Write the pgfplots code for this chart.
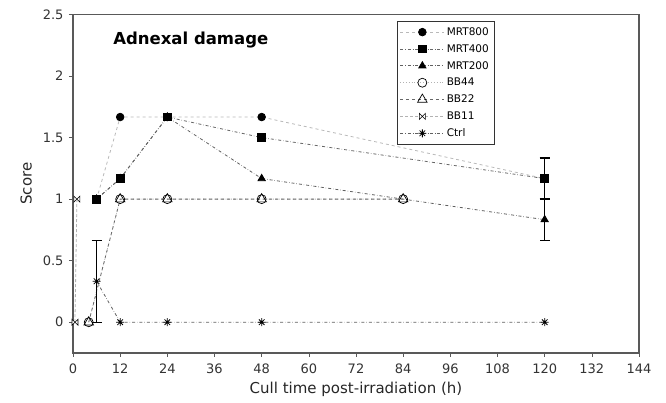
\documentclass[border=0pt]{standalone}
\usepackage{fontspec}
\setmainfont{DejaVu Sans}
\usepackage{pgfplots}
\pgfplotsset{compat=1.18}

% bowtie mark for BB11
\pgfdeclareplotmark{bowtie}{%
  \pgfpathmoveto{\pgfqpoint{-\pgfplotmarksize}{\pgfplotmarksize}}%
  \pgfpathlineto{\pgfqpoint{\pgfplotmarksize}{-\pgfplotmarksize}}%
  \pgfpathlineto{\pgfqpoint{\pgfplotmarksize}{\pgfplotmarksize}}%
  \pgfpathlineto{\pgfqpoint{-\pgfplotmarksize}{-\pgfplotmarksize}}%
  \pgfpathclose
  \pgfusepathqfillstroke}
% eight-armed asterisk for Ctrl
\pgfdeclareplotmark{ast8}{%
  \pgfpathmoveto{\pgfqpoint{-\pgfplotmarksize}{0pt}}%
  \pgfpathlineto{\pgfqpoint{\pgfplotmarksize}{0pt}}%
  \pgfpathmoveto{\pgfqpoint{0pt}{-\pgfplotmarksize}}%
  \pgfpathlineto{\pgfqpoint{0pt}{\pgfplotmarksize}}%
  \pgfpathmoveto{\pgfqpoint{-0.7\pgfplotmarksize}{-0.7\pgfplotmarksize}}%
  \pgfpathlineto{\pgfqpoint{0.7\pgfplotmarksize}{0.7\pgfplotmarksize}}%
  \pgfpathmoveto{\pgfqpoint{-0.7\pgfplotmarksize}{0.7\pgfplotmarksize}}%
  \pgfpathlineto{\pgfqpoint{0.7\pgfplotmarksize}{-0.7\pgfplotmarksize}}%
  \pgfusepathqstroke}

\begin{document}
\begin{tikzpicture}
\begin{axis}[
    name=ax,
    width=566pt, height=338.5pt,
    scale only axis,
    xmin=0, xmax=144, ymin=-0.25, ymax=2.5,
    xtick={0,12,...,144},
    ytick={0,0.5,1,1.5,2,2.5},
    tick align=outside,
    major tick length=4pt,
    tick style={gray!70!black, line width=0.6pt},
    xtick pos=bottom, ytick pos=left,
    axis line style={gray!70!black, line width=1.2pt},
    ticklabel style={font=\fontsize{13}{15}\selectfont, text=black!80},
    yticklabel style={xshift=-2pt},
    xticklabel style={yshift=-3pt},
    /pgf/number format/assume math mode=true,
    xlabel={Cull time post-irradiation (h)},
    ylabel={Score},
    label style={font=\fontsize{15}{17}\selectfont, text=black!85},
    xlabel style={yshift=-2pt},
    ylabel style={yshift=4pt},
    legend style={at={(0.572,0.98)}, anchor=north west,
        font=\fontsize{10.5}{12}\selectfont, draw=black!80,
        row sep=3.6pt, inner xsep=3pt, inner ysep=4pt},
    legend cell align=left,
    legend image code/.code={%
        \draw[mark repeat=2,mark phase=2,#1]
        plot coordinates {(0pt,0pt) (22pt,0pt) (44pt,0pt)};},
    error bars/error bar style={black, solid, line width=1.3pt},
    error bars/error mark options={rotate=90, mark size=5pt, line width=1.3pt, black, solid},
]

% MRT800
\addplot[gray!55, dashed, line width=0.8pt, mark=*, mark size=3.8pt,
    mark options={solid, fill=black, draw=black}]
    coordinates {(6,1) (12,1.667) (24,1.667) (48,1.667) (120,1.167)};
\addlegendentry{MRT800}

% MRT400
\addplot[gray!80!black, dashdotted, line width=0.8pt, mark=square*, mark size=3.8pt,
    mark options={solid, fill=black, draw=black},
    error bars/.cd, y dir=both, y explicit]
    coordinates {(6,1) (12,1.167) (24,1.667) (48,1.5) (120,1.167) +- (0,0.167)};
\addlegendentry{MRT400}

% MRT200
\addplot[gray!75!black, dashdotted, line width=0.8pt, mark=triangle*, mark size=4.2pt,
    mark options={solid, fill=black, draw=black},
    error bars/.cd, y dir=both, y explicit]
    coordinates {(6,1) (12,1.167) (24,1.667) (48,1.167) (120,0.833) +- (0,0.167)};
\addlegendentry{MRT200}

% BB44
\addplot[gray!60, dotted, line width=0.8pt, mark=o, mark size=4.5pt,
    mark options={solid, fill=white, draw=black, line width=0.7pt}]
    coordinates {(4,0) (12,1) (24,1) (48,1) (84,1)};
\addlegendentry{BB44}

% BB22
\addplot[gray!80!black, dashed, line width=0.8pt, mark=triangle, mark size=5.5pt,
    mark options={solid, fill=white, draw=black, line width=0.7pt}]
    coordinates {(4,0) (12,1) (24,1) (48,1) (84,1)};
\addlegendentry{BB22}

% BB11
\addplot[gray!60, densely dashed, line width=0.8pt, mark=bowtie, mark size=3pt,
    mark options={solid, fill=white, draw=black, line width=0.6pt}]
    coordinates {(0.5,0) (1,1)};
\addlegendentry{BB11}

% Ctrl
\addplot[gray!75!black, dashdotted, line width=0.8pt, mark=ast8, mark size=4pt,
    mark options={solid, draw=black, line width=0.8pt},
    error bars/.cd, y dir=both, y explicit]
    coordinates {(6,0.333) +- (0,0.333) (12,0) (24,0) (48,0) (120,0)};
\addlegendentry{Ctrl}

\node[anchor=west, font=\fontsize{16.5}{19}\selectfont\bfseries]
    at (rel axis cs:0.065,0.926) {Adnexal damage};
\end{axis}
\pgfresetboundingbox
\path ([xshift=-73pt,yshift=-50pt]ax.south west) rectangle ([xshift=27pt,yshift=14.5pt]ax.north east);
\end{tikzpicture}
\end{document}
